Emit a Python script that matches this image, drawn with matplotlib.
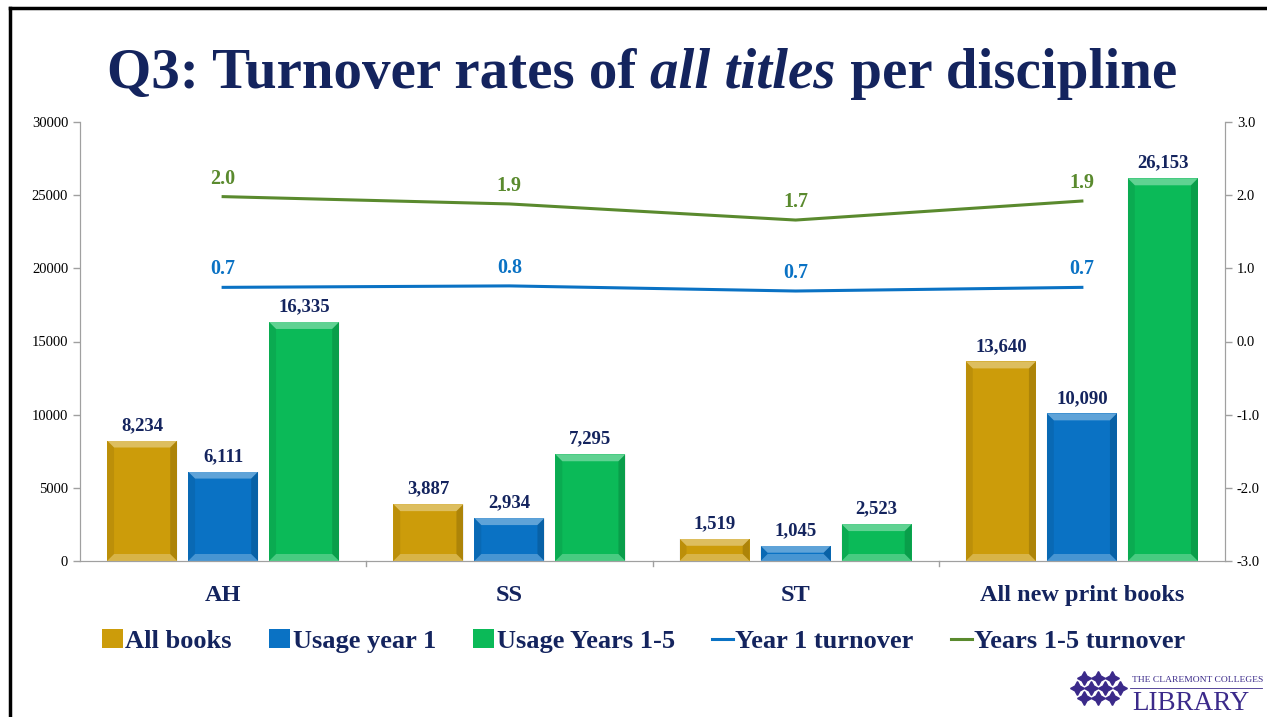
import matplotlib

matplotlib.use("Agg")
import matplotlib.pyplot as plt
import numpy as np
from matplotlib.patches import Polygon
from matplotlib.lines import Line2D

# ---------------------------------------------------------------------------
# Data
# ---------------------------------------------------------------------------
categories = ["AH", "SS", "ST", "All new print books"]
all_books = [8234, 3887, 1519, 13640]
usage_year1 = [6111, 2934, 1045, 10090]
usage_years15 = [16335, 7295, 2523, 26153]
turnover_year1 = [0.74, 0.76, 0.69, 0.74]
turnover_years15 = [1.98, 1.88, 1.66, 1.92]

bar_series = ["All books", "Usage year 1", "Usage Years 1-5"]
line_series = ["Year 1 turnover", "Years 1-5 turnover"]

NAVY = "#14245E"
GOLD = "#CC9C0A"
BLUE = "#0A72C4"
GREEN = "#0BBA58"
LBLUE = "#0A72C4"
OLIVE = "#5A8A2E"
GRID = "#A0A0A0"
PURPLE = "#3B2A8A"
SERIF = ["Liberation Serif", "DejaVu Serif"]

W, H = 1267, 717
fig = plt.figure(figsize=(W / 100, H / 100), dpi=100)
fig.patch.set_facecolor("white")

# slide frame (top + left)
fig.add_artist(Line2D([10 / W, 10 / W], [0, 1 - 8 / H], color="black",
                      lw=2.5, transform=fig.transFigure))
fig.add_artist(Line2D([10 / W, 1], [1 - 8 / H, 1 - 8 / H], color="black",
                      lw=2.5, transform=fig.transFigure))

# title in three pieces (regular / italic / regular), centred as a whole
title_parts = [("Q3: Turnover rates of ", "normal"), ("all titles", "italic"),
               (" per discipline", "normal")]
title_y = 1 - 88 / H
renderer = fig.canvas.get_renderer()
pieces = []
for txt, st in title_parts:
    t = fig.text(0, title_y, txt, family=SERIF, fontsize=41, fontweight="bold",
                 style=st, color=NAVY, ha="left", va="baseline")
    pieces.append(t)
widths = [p.get_window_extent(renderer).width for p in pieces]
xpos = (642 - sum(widths) / 2)
for p, wd in zip(pieces, widths):
    p.set_x(xpos / W)
    xpos += wd

ax = fig.add_axes([80 / W, 156 / H, 1145 / W, 439 / H])
ax2 = ax.twinx()

x = np.arange(len(categories))
w = 0.245
off = 0.283
colors = [GOLD, BLUE, GREEN]
series = [all_books, usage_year1, usage_years15]
bars = []
for i, (vals, c, name) in enumerate(zip(series, colors, bar_series)):
    b = ax.bar(x + (i - 1) * off, vals, w, color=c, label=name, zorder=2)
    bars.append(b)
    for rect, v in zip(b, vals):
        ax.text(rect.get_x() + rect.get_width() / 2, v + 450, f"{v:,}",
                ha="center", va="bottom", family=SERIF, fontsize=13.5,
                fontweight="bold", color=NAVY)

ax.set_xlim(-0.5, len(categories) - 0.5)
ax.set_ylim(0, 30000)
ax.set_yticks(np.arange(0, 30001, 5000))
ax2.set_ylim(-3, 3)
ax2.set_yticks(np.arange(-3, 3.01, 1))
ax2.set_yticklabels([f"{v:.1f}" for v in np.arange(-3, 3.01, 1)])

ax2.plot(x, turnover_year1, color=LBLUE, lw=2.2, label=line_series[0], zorder=3)
ax2.plot(x, turnover_years15, color=OLIVE, lw=2.2, label=line_series[1], zorder=3)
for xi, v in zip(x, turnover_year1):
    ax2.text(xi, v + 0.11, f"{v:.1f}", ha="center", va="bottom", family=SERIF,
             fontsize=14.5, fontweight="bold", color=LBLUE)
for xi, v in zip(x, turnover_years15):
    ax2.text(xi, v + 0.11, f"{v:.1f}", ha="center", va="bottom", family=SERIF,
             fontsize=14.5, fontweight="bold", color=OLIVE)

for a in (ax, ax2):
    a.spines["top"].set_visible(False)
    for s in ("left", "right", "bottom"):
        a.spines[s].set_color(GRID)
    a.tick_params(colors=GRID, length=5, width=1, labelsize=10.5, labelcolor="black")
    for lab in a.get_yticklabels():
        lab.set_family(SERIF)

# category labels + boundary ticks
ax.set_xticks(x)
ax.set_xticklabels(categories, family=SERIF, fontsize=17.5, fontweight="bold", color=NAVY)
ax.tick_params(axis="x", length=0, pad=17)
for b in np.arange(0.5, len(categories) - 0.5, 1):
    ax.plot([b, b], [0, -0.012], transform=ax.get_xaxis_transform(), color=GRID,
            lw=1, clip_on=False)

# bevel overlays on bars
fig.canvas.draw()
bev = 7
for b in bars:
    for rect in b:
        (x0, y0), (x1, y1) = ax.transData.transform(
            [(rect.get_x(), 0), (rect.get_x() + rect.get_width(), rect.get_height())])
        bv = min(bev, (y1 - y0) / 2)
        faces = [
            ([(x0, y1), (x1, y1), (x1 - bv, y1 - bv), (x0 + bv, y1 - bv)], "white", 0.35),
            ([(x0, y0), (x1, y0), (x1 - bv, y0 + bv), (x0 + bv, y0 + bv)], "white", 0.25),
            ([(x0, y0), (x0, y1), (x0 + bv, y1 - bv), (x0 + bv, y0 + bv)], "black", 0.08),
            ([(x1, y0), (x1, y1), (x1 - bv, y1 - bv), (x1 - bv, y0 + bv)], "black", 0.15),
        ]
        for pts, c, al in faces:
            fig.add_artist(Polygon(pts, closed=True, facecolor=c, alpha=al,
                                   edgecolor="none", transform=None, zorder=5))

# legend
h1, l1 = ax.get_legend_handles_labels()
h2, l2 = ax2.get_legend_handles_labels()
fig.legend(h1 + h2, l1 + l2, loc="center", bbox_to_anchor=(0.508, 1 - 641 / H),
           ncol=5, frameon=False, prop={"family": SERIF, "weight": "bold", "size": 19},
           labelcolor=NAVY, handlelength=0.8, handletextpad=0.1, columnspacing=1.4)

# logo: cluster of four-point stars + wordmark
star_pts = [(1077, 688), (1091, 688), (1105, 688), (1120, 688),
            (1084, 678), (1098, 678), (1112, 678),
            (1084, 698), (1098, 698), (1112, 698)]
for sx, sy in star_pts:
    fig.add_artist(Line2D([sx / W], [1 - sy / H], marker=(4, 1, 0), markersize=10,
                          color=PURPLE, linestyle="none", transform=fig.transFigure))
fig.text(1132 / W, 1 - 680 / H, "THE CLAREMONT COLLEGES", family=SERIF,
         fontsize=6.8, color=PURPLE, ha="left", va="center")
fig.add_artist(Line2D([1130 / W, 1262 / W], [1 - 688 / H, 1 - 688 / H],
                      color=PURPLE, lw=0.6, transform=fig.transFigure))
fig.text(1132 / W, 1 - 710 / H, "LIBRARY", family=SERIF, fontsize=19.5,
         color=PURPLE, ha="left", va="baseline")

fig.savefig("out.png", dpi=100, facecolor="white")
